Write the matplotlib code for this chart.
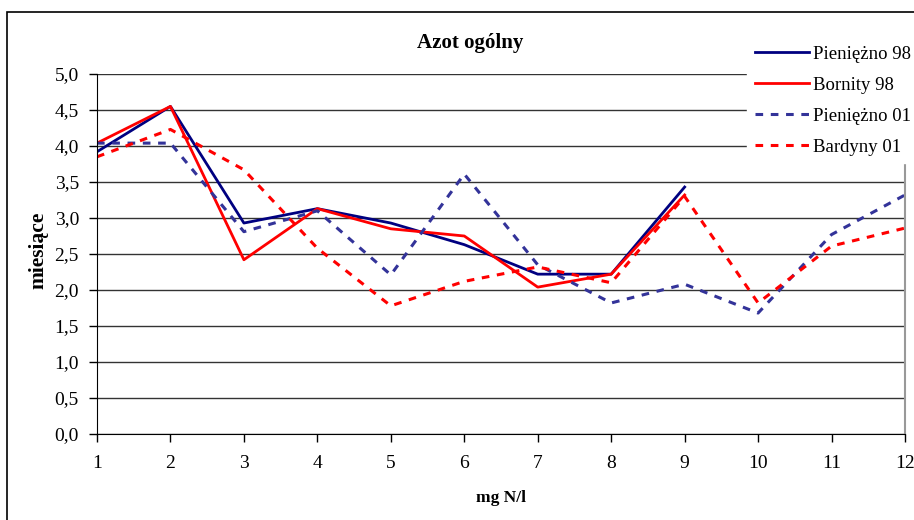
import matplotlib.pyplot as plt
from matplotlib.patches import Rectangle

# dane
x = [1, 2, 3, 4, 5, 6, 7, 8, 9, 10, 11, 12]
pieniezno_98 = [3.92, 4.55, 2.93, 3.13, 2.93, 2.63, 2.22, 2.22, 3.43]
bornity_98 = [4.04, 4.55, 2.42, 3.13, 2.85, 2.75, 2.04, 2.22, 3.32]
pieniezno_01 = [4.04, 4.04, 2.81, 3.10, 2.21, 3.61, 2.35, 1.82, 2.08, 1.68, 2.77, 3.32]
bardyny_01 = [3.85, 4.23, 3.67, 2.58, 1.78, 2.12, 2.32, 2.10, 3.30, 1.82, 2.61, 2.86]
yticks = [0.0, 0.5, 1.0, 1.5, 2.0, 2.5, 3.0, 3.5, 4.0, 4.5, 5.0]

plt.rcParams['font.family'] = ['Liberation Serif', 'DejaVu Serif']

fig = plt.figure(figsize=(9.14, 5.2), dpi=100)
ax = fig.add_axes([97 / 914, 1 - 434 / 520, 808 / 914, 360 / 520])

# ramka wokol calego wykresu
fig.patches.append(Rectangle((7 / 914, -0.1), 1.2, 1 - 12 / 520 + 0.1,
                             transform=fig.transFigure, fill=False,
                             edgecolor='black', linewidth=1.2))

ax.plot(x[:9], pieniezno_98, color='#000080', lw=2, label='Pieniężno 98')
ax.plot(x[:9], bornity_98, color='#FF0000', lw=2, label='Bornity 98')
ax.plot(x, pieniezno_01, color='#333399', lw=2.2, linestyle=(0, (2.5, 2.5)),
        label='Pieniężno 01')
ax.plot(x, bardyny_01, color='#FF0000', lw=2.2, linestyle=(0, (2.5, 2.5)),
        label='Bardyny 01')

ax.set_xlim(1, 12)
ax.set_ylim(0, 5)
ax.set_xticks(x)
ax.set_yticks(yticks)
ax.set_yticklabels([f'{v:.1f}'.replace('.', ',') for v in yticks])
ax.tick_params(labelsize=14, direction='out', length=6, width=1)
ax.tick_params(axis='x', pad=9)
ax.tick_params(axis='y', pad=7)
ax.yaxis.grid(True, color='#333333', lw=1)
ax.set_axisbelow(True)

ax.spines['top'].set_visible(False)
ax.spines['right'].set_color('#999999')
ax.spines['right'].set_linewidth(1.5)

fig.text(470 / 914, 1 - 43 / 520, 'Azot ogólny', fontsize=15,
         fontweight='bold', ha='center', va='center')
fig.text(501 / 914, 1 - 498 / 520, 'mg N/l', fontsize=12.5,
         fontweight='bold', ha='center', va='center')
fig.text(38 / 914, 1 - 250 / 520, 'miesiące', fontsize=15.5,
         fontweight='bold', ha='center', va='center', rotation=90)

leg = ax.legend(loc='upper left', bbox_to_anchor=(747 / 914, 1 - 38 / 520),
                bbox_transform=fig.transFigure, fontsize=13.5, frameon=True,
                fancybox=False, edgecolor='white', framealpha=1,
                handlelength=2.9, labelspacing=0.74, borderaxespad=0,
                borderpad=0.4, handletextpad=0.2)

fig.savefig('out.png', dpi=100)
